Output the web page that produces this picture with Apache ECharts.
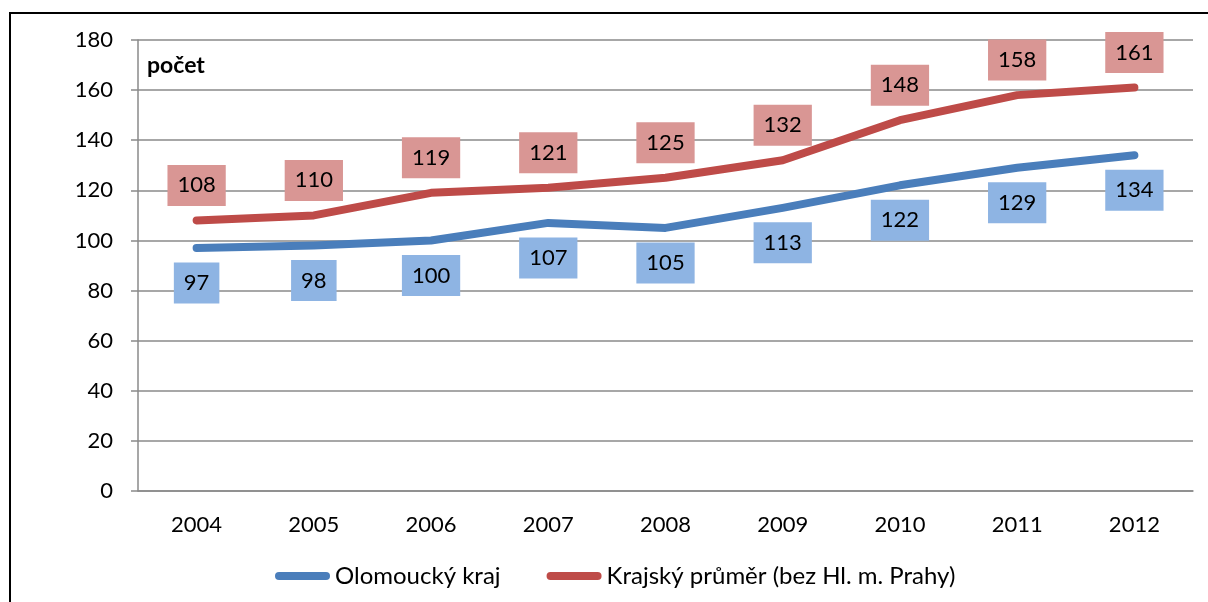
<!DOCTYPE html>
<html>
<head>
<meta charset="utf-8">
<script src="https://cdn.jsdelivr.net/npm/echarts@6/dist/echarts.min.js"></script>
<style>
html,body{margin:0;padding:0;background:#fff;}
#chart{width:1208px;height:602px;}
</style>
</head>
<body>
<div id="chart"></div>
<script>
const years = ['2004','2005','2006','2007','2008','2009','2010','2011','2012'];
const olomoucky = [97, 98, 100, 107, 105, 113, 122, 129, 134];
const krajsky = [108, 110, 119, 121, 125, 132, 148, 158, 161];
const seriesNames = ['Olomoucký kraj', 'Krajský průměr (bez Hl. m. Prahy)'];
const yUnit = 'počet';

const FONT = 'Lato, "Liberation Sans", sans-serif';
const chart = echarts.init(document.getElementById('chart'), null, {renderer: 'canvas'});
const capsule = 'path://M4,0 H51 A4,4 0 0 1 51,8 H4 A4,4 0 0 1 4,0 Z';

chart.setOption({
  animation: false,
  backgroundColor: '#ffffff',
  textStyle: {fontFamily: FONT},
  grid: {left: 138, right: 15, top: 40, bottom: 111, containLabel: false},
  graphic: [
    {type: 'rect', shape: {x: 10, y: 13, width: 1400, height: 800},
     style: {fill: 'none', stroke: '#000', lineWidth: 2}, silent: true},
    {type: 'text', x: 147, y: 66,
     style: {text: yUnit, font: 'bold 23px ' + FONT, fill: '#000', verticalAlign: 'middle', align: 'left'}}
  ],
  legend: {
    top: 559,
    left: 270,
    itemWidth: 55,
    itemHeight: 8,
    itemGap: 46,
    textStyle: {fontSize: 24, color: '#000', fontFamily: FONT},
    data: [
      {name: seriesNames[0], icon: capsule},
      {name: seriesNames[1], icon: capsule}
    ]
  },
  xAxis: {
    type: 'category',
    data: years,
    boundaryGap: true,
    axisLine: {lineStyle: {color: '#8a8a8a', width: 1.5}},
    axisTick: {show: false},
    axisLabel: {fontSize: 22, color: '#000', margin: 23, fontFamily: FONT}
  },
  yAxis: {
    type: 'value',
    min: 0, max: 180, interval: 20,
    axisLine: {show: true, lineStyle: {color: '#8a8a8a', width: 1.5}},
    axisTick: {show: true, length: 7, inside: false, lineStyle: {color: '#8a8a8a', width: 1.5}},
    axisLabel: {fontSize: 22, color: '#000', margin: 25, fontFamily: FONT},
    splitLine: {lineStyle: {color: '#8a8a8a', width: 1.5}}
  },
  series: [
    {
      name: seriesNames[0],
      type: 'line',
      data: olomoucky,
      symbol: 'circle',
      symbolSize: 1,
      showSymbol: true,
      color: '#4A7EBB',
      itemStyle: {color: '#4A7EBB'},
      lineStyle: {color: '#4A7EBB', width: 8, cap: 'round', join: 'round'},
      label: {
        show: true, position: 'bottom', distance: 14,
        fontSize: 22, lineHeight: 25, color: '#000', fontFamily: FONT,
        backgroundColor: '#8EB4E3', padding: [8, 10, 8, 10]
      },
      z: 3
    },
    {
      name: seriesNames[1],
      type: 'line',
      data: krajsky,
      symbol: 'circle',
      symbolSize: 1,
      showSymbol: true,
      color: '#BE4B48',
      itemStyle: {color: '#BE4B48'},
      lineStyle: {color: '#BE4B48', width: 8, cap: 'round', join: 'round'},
      label: {
        show: true, position: 'top', distance: 14,
        fontSize: 22, lineHeight: 25, color: '#000', fontFamily: FONT,
        backgroundColor: '#D99694', padding: [8, 10, 8, 10]
      },
      z: 3
    }
  ]
});
</script>
</body>
</html>
